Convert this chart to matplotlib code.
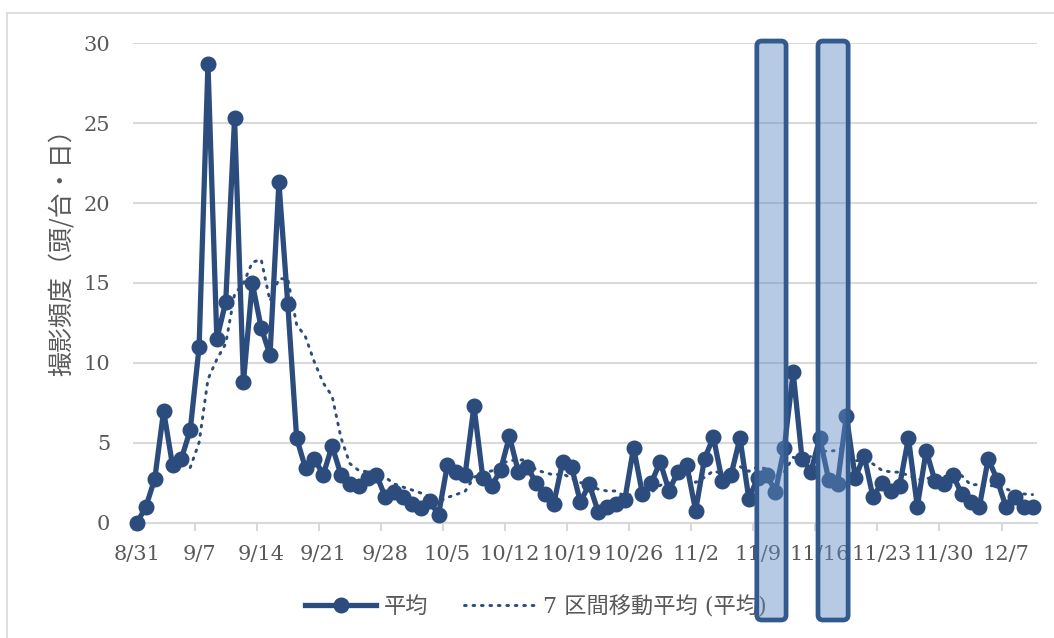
#!/usr/bin/env python3
"""Daily camera-trap frequency (8/31 - 12/10) with 7-day moving average."""

import matplotlib

matplotlib.use("Agg")
import matplotlib.pyplot as plt
import numpy as np
import pandas as pd
from matplotlib.patches import FancyBboxPatch, Rectangle

# daily mean, 8/31 .. 12/10 (one value per day)
daily_mean = [
    0.0, 1.0, 2.75, 7.0, 3.6, 4.0, 5.8,
    11.0, 28.7, 11.5, 13.8, 25.3, 8.8, 15.0,
    12.2, 10.5, 21.3, 13.7, 5.3, 3.4, 4.0,
    3.0, 4.8, 3.0, 2.4, 2.3, 2.8, 3.0,
    1.6, 1.9, 1.6, 1.15, 0.95, 1.35, 0.5,
    3.6, 3.2, 3.0, 7.3, 2.8, 2.3, 3.3,
    5.4, 3.2, 3.5, 2.5, 1.8, 1.2, 3.8,
    3.5, 1.3, 2.4, 0.7, 1.0, 1.2, 1.4,
    4.7, 1.8, 2.5, 3.8, 2.0, 3.2, 3.6,
    0.75, 4.0, 5.35, 2.6, 3.0, 5.3, 1.5,
    2.8, 3.0, 1.95, 4.7, 9.4, 4.0, 3.2,
    5.3, 2.7, 2.45, 6.7, 2.8, 4.2, 1.6,
    2.5, 2.0, 2.3, 5.3, 1.0, 4.5, 2.6,
    2.45, 3.0, 1.8, 1.3, 1.0, 4.0, 2.7,
    1.0, 1.6, 1.0, 1.0,
]
week_labels = ["8/31", "9/7", "9/14", "9/21", "9/28", "10/5", "10/12", "10/19",
               "10/26", "11/2", "11/9", "11/16", "11/23", "11/30", "12/7"]
# highlighted periods (day index from 8/31)
highlight_days = [(69.9, 73.2), (76.8, 80.2)]

LINE = "#2b4c7c"
GRID = "#d9d9d9"
TEXT = "#595959"

plt.rcParams["font.family"] = ["DejaVu Serif", "Noto Sans CJK JP"]

days = np.arange(len(daily_mean))
moving = pd.Series(daily_mean).rolling(7).mean()

W, H = 1054, 638
fig = plt.figure(figsize=(W / 100, H / 100), dpi=100)
ax = fig.add_axes([132.6 / W, 1 - 522.7 / H, (1037 - 132.6) / W, (522.7 - 43.3) / H])

ax.plot(days, daily_mean, color=LINE, lw=3.8, marker="o", ms=10.5,
        clip_on=False, zorder=3, label="平均")
ax.plot(days, moving, color=LINE, lw=2.1, ls=(0, (0.6, 2.3)),
        dash_capstyle="round", zorder=2, label="7 区間移動平均 (平均)")

ax.set_xlim(-0.5, len(daily_mean) - 0.5)
ax.set_ylim(0, 30)
ax.set_yticks(range(0, 31, 5))
ax.set_xticks(np.arange(0, 7 * len(week_labels), 7))
ax.set_xticklabels(week_labels)
ax.set_xticks(np.arange(-0.5, len(daily_mean), 7), minor=True)

ax.grid(axis="y", color=GRID, lw=1.5)
ax.set_axisbelow(True)
for side in ("top", "right", "left"):
    ax.spines[side].set_visible(False)
ax.spines["bottom"].set_color(GRID)
ax.spines["bottom"].set_linewidth(1.5)
ax.tick_params(axis="y", length=0, pad=16, labelsize=15, labelcolor=TEXT)
ax.tick_params(axis="x", which="major", length=0, pad=16, labelsize=15, labelcolor=TEXT)
ax.tick_params(axis="x", which="minor", length=6, width=1.5, color=GRID)

fig.text(62 / W, 1 - 246 / H, "撮影頻度（頭/台・日）", rotation=90, ha="center",
         va="center", fontsize=18, color=TEXT, family=["Noto Sans CJK JP"])

ax.legend(loc="center", bbox_to_anchor=(536 / W, 1 - 607 / H),
          bbox_transform=fig.transFigure, ncol=2, frameon=False, fontsize=16,
          labelcolor=TEXT, handlelength=3.2, handletextpad=0.35,
          columnspacing=1.6)

# outer chart frame
fig.add_artist(Rectangle((7 / W, -0.02), 1.1, 1 - 13 / H + 0.02,
                         transform=fig.transFigure, fill=False,
                         ec=GRID, lw=1.2))

# highlighted periods drawn over everything, in pixel coordinates
fig.canvas.draw()
for d0, d1 in highlight_days:
    x0 = ax.transData.transform((d0, 0))[0]
    x1 = ax.transData.transform((d1, 0))[0]
    y_top = H - 41
    y_bot = H - 620
    box = FancyBboxPatch((x0, y_bot), x1 - x0, y_top - y_bot,
                         boxstyle="round,pad=0,rounding_size=5",
                         transform=None, fc=(0.373, 0.545, 0.765, 0.45),
                         ec="#335a8c", lw=3.4, zorder=10)
    fig.add_artist(box)

fig.savefig("out.png", dpi=100)
